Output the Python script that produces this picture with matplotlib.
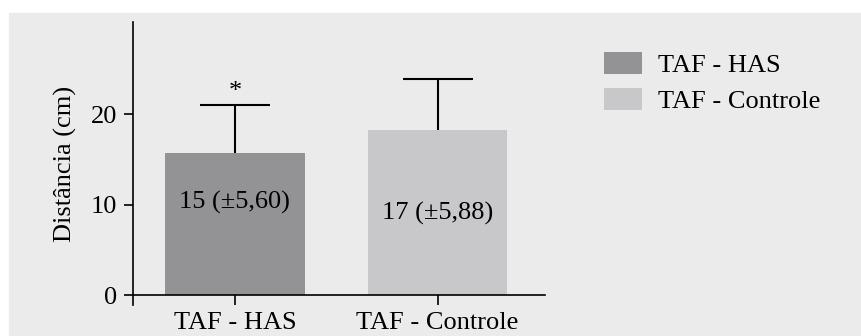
import numpy as np
import matplotlib.pyplot as plt
from matplotlib.patches import Rectangle

# --- Datos ---
grupos = ["TAF - HAS", "TAF - Controle"]
medias = [15.75, 18.3]
erros = [5.3, 5.6]
rotulos = ["15 (±5,60)", "17 (±5,88)"]
rotulo_y = [10.3, 9.1]
cores = ["#939396", "#c8c8ca"]

plt.rcParams['font.family'] = ['Liberation Serif', 'DejaVu Serif']
fs = 19

fig = plt.figure(figsize=(8.62, 3.36), dpi=100, facecolor="white")
# painel cinza de fundo
fig.patches.append(Rectangle((9 / 862, 0), 1, (336 - 13) / 336,
                             transform=fig.transFigure, color="#ebebeb", zorder=-1))

ax = fig.add_axes([133.5 / 862, 31 / 336, (545 - 133.5) / 862, 283 / 336])
ax.patch.set_alpha(0)

x = np.arange(len(grupos))
barras = ax.bar(x, medias, width=0.69, color=cores, zorder=2)
eb = ax.errorbar(x, medias, yerr=[np.zeros(len(erros)), erros], fmt="none",
                 ecolor="black", elinewidth=1.5, capsize=25, capthick=1.5, zorder=3)
eb[1][0].set_visible(False)  # sin tapa inferior

for xi, txt, yy in zip(x, rotulos, rotulo_y):
    ax.text(xi, yy, txt, ha="center", va="center", fontsize=fs)

# asterisco de significância
ax.text(x[0], 22.5, "*", ha="center", va="center", fontsize=fs)

ax.set_xlim(-0.5, 1.53)
ax.set_ylim(-1.05, 30.2)
ax.set_yticks([0, 10, 20])
ax.set_xticks(x)
ax.set_xticklabels(grupos)
ax.tick_params(axis="both", labelsize=fs, width=1.2, color="black")
ax.tick_params(axis="y", length=6.5, pad=5)
ax.tick_params(axis="x", length=7.2, pad=5)
ax.set_ylabel("Distância (cm)", fontsize=fs, labelpad=10)

ax.spines["top"].set_visible(False)
ax.spines["right"].set_visible(False)
ax.spines["bottom"].set_position(("data", 0))
ax.spines["left"].set_linewidth(1.2)
ax.spines["bottom"].set_linewidth(1.2)

ax.legend(barras, grupos, loc="upper left", bbox_to_anchor=(591 / 862, 1 - 39 / 336),
          bbox_transform=fig.transFigure, frameon=False, fontsize=fs, borderpad=0,
          handlelength=1.45, handleheight=0.87, handletextpad=0.6, labelspacing=0.43)

fig.savefig("out.png", dpi=100, facecolor="white")
